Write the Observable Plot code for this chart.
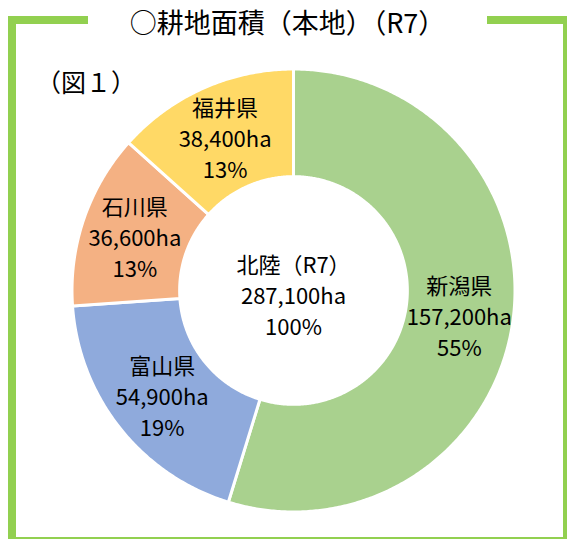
<!DOCTYPE html>
<html>
<head>
<meta charset="utf-8">
<script src="https://cdn.jsdelivr.net/npm/d3@7"></script>
<script src="https://cdn.jsdelivr.net/npm/@observablehq/plot@0.6"></script>
<style>
  html, body { margin: 0; padding: 0; background: #fff; }
  #wrap { position: relative; width: 567px; height: 539px; overflow: hidden; background: #fff; }
  #frame { position: absolute; left: 8px; top: 16px; width: 547px; height: 513px; border: 8px solid #92D050; }
  #chart { position: absolute; left: 0; top: 0; }
  #title { position: absolute; left: 88px; top: 2px; width: 399px; height: 40px; line-height: 40px; background: #fff;
           text-align: center; font-family: "Noto Sans CJK JP", sans-serif; font-size: 27px; font-weight: 400; color: #000; }
  #fig { position: absolute; left: 36px; top: 64px; font-family: "Noto Sans CJK JP", sans-serif; font-size: 25px; color: #000; line-height: 34px; }
</style>
</head>
<body>
<div id="wrap">
  <div id="frame"></div>
  <div id="chart"></div>
  <div id="title"></div>
  <div id="fig"></div>
</div>
<script>
// ---- data ----
const chartTitle = "○耕地面積（本地）（R7）";
const figureLabel = "（図１）";
const prefectures = ["新潟県", "富山県", "石川県", "福井県"];
const areaHa = [157200, 54900, 36600, 38400];
const sharePct = [55, 19, 13, 13];
const sliceColors = ["#A9D18E", "#8FAADC", "#F4B183", "#FFD966"];
const totalName = "北陸（R7）";
const totalHa = 287100;
const totalPct = 100;

document.getElementById("title").textContent = chartTitle;
document.getElementById("fig").textContent = figureLabel;

const rOuter = 1;
const rInner = 0.514;
const fmt = d3.format(",");

const slices = prefectures.map((name, i) => ({name, ha: areaHa[i], pct: sharePct[i]}));
const arcs = d3.pie().sort(null).value(d => d.ha)(slices);

const ring = arcs.flatMap(a => {
  const n = Math.max(2, Math.ceil((a.endAngle - a.startAngle) / (Math.PI / 360)));
  const pts = [];
  for (let k = 0; k <= n; k++) {
    const t = a.startAngle + (a.endAngle - a.startAngle) * k / n;
    pts.push({name: a.data.name, x: rOuter * Math.sin(t), y: rOuter * Math.cos(t)});
  }
  for (let k = n; k >= 0; k--) {
    const t = a.startAngle + (a.endAngle - a.startAngle) * k / n;
    pts.push({name: a.data.name, x: rInner * Math.sin(t), y: rInner * Math.cos(t)});
  }
  return pts;
});

const labels = arcs.map(a => {
  const m = (a.startAngle + a.endAngle) / 2;
  const r = (rOuter + rInner) / 2;
  return {x: r * Math.sin(m), y: r * Math.cos(m), text: `${a.data.name}\n${fmt(a.data.ha)}ha\n${a.data.pct}%`};
});

const center = [{x: 0, y: 0, text: `${totalName}\n${fmt(totalHa)}ha\n${totalPct}%`}];

const labelFont = "'Liberation Sans Narrow', 'Arial Narrow', 'Noto Sans CJK JP', sans-serif";

const chart = Plot.plot({
  width: 567,
  height: 539,
  margin: 0,
  style: {background: "transparent", fontFamily: labelFont},
  x: {domain: [-1, 1], range: [71.5, 514.5], axis: null},
  y: {domain: [-1, 1], range: [511.5, 68.5], axis: null},
  color: {domain: prefectures, range: sliceColors},
  marks: [
    Plot.line(ring, {x: "x", y: "y", z: "name", fill: "name", stroke: "white", strokeWidth: 3, curve: "linear-closed"}),
    Plot.text(labels, {x: "x", y: "y", text: "text", fontSize: 22, lineHeight: 1.41, fill: "#000", fontFamily: labelFont}),
    Plot.text(center, {x: "x", y: "y", text: "text", fontSize: 22, lineHeight: 1.41, dy: 4, fill: "#000", fontFamily: labelFont})
  ]
});
document.getElementById("chart").appendChild(chart);
</script>
</body>
</html>
